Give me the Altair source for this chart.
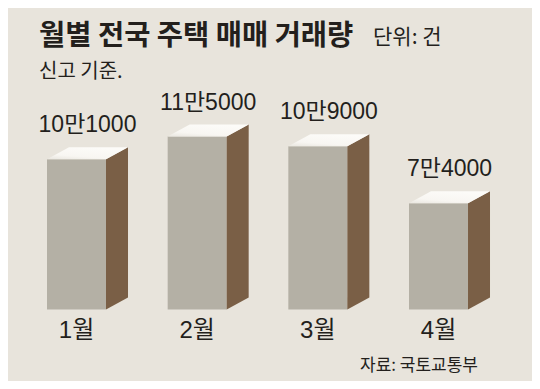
import altair as alt
import pandas as pd

# ---- data ----
months = ["1월", "2월", "3월", "4월"]
volumes = [101000, 115000, 109000, 74000]
value_labels = ["10만1000", "11만5000", "10만9000", "7만4000"]

title_text = "월별 전국 주택 매매 거래량"
unit_text = "단위: 건"
note_text = "신고 기준."
source_text = "자료: 국토교통부"

# ---- styling / geometry ----
W, H = 524, 373
BG = "#e8e4dc"
FRONT = "#b4b0a5"
SIDE = "#7a5f46"
INK = "#231f1c"

HW = 0.2445      # half width of the front face (category units)
DX = 0.1823      # depth offset in x (category units)
BASE = 8800      # baseline value of the bars
DV = 7366        # depth offset in value units
XDOM = [-0.5677, 3.7748]
YDOM = [-35092, 193883]

NUM_FONT = "Liberation Sans, Noto Sans CJK KR"
KR_FONT = "Noto Sans CJK KR"

rows = []
for i, (m, v, lab) in enumerate(zip(months, volumes, value_labels)):
    rows.append(dict(i=i, month=m, value=v, label=lab, base=BASE,
                     xl=i - HW, xr=i + HW, xc=i, xlab=i + DX / 2))
df = pd.DataFrame(rows)

side_rows, top_rows = [], []
for r in rows:
    side_rows += [
        dict(grp=r["month"], px=r["xr"], lo=BASE, hi=r["value"]),
        dict(grp=r["month"], px=r["xr"] + DX, lo=BASE + DV, hi=r["value"] + DV),
    ]
    v = r["value"]
    top_rows += [
        dict(grp=r["month"], px=r["xl"], lo=v, hi=v),
        dict(grp=r["month"], px=r["xl"] + DX, lo=v, hi=v + DV),
        dict(grp=r["month"], px=r["xr"], lo=v, hi=v + DV),
        dict(grp=r["month"], px=r["xr"] + DX, lo=v + DV, hi=v + DV),
    ]
side_df = pd.DataFrame(side_rows)
top_df = pd.DataFrame(top_rows)

xs = alt.Scale(domain=XDOM, nice=False, zero=False)
ys = alt.Scale(domain=YDOM, nice=False, zero=False)

top_fill = alt.Gradient(
    gradient="linear",
    stops=[alt.GradientStop(color="#e9e6df", offset=0),
           alt.GradientStop(color="#f8f6f2", offset=0.35),
           alt.GradientStop(color="#fcfbf8", offset=1)],
    x1=0, y1=1, x2=0.5, y2=0,
)

front = alt.Chart(df).mark_rect(color=FRONT).encode(
    x=alt.X("xl:Q", scale=xs, axis=None),
    x2="xr:Q",
    y=alt.Y("value:Q", scale=ys, axis=None),
    y2="base:Q",
)

side = alt.Chart(side_df).mark_area(color=SIDE).encode(
    x=alt.X("px:Q", scale=xs, axis=None),
    y=alt.Y("hi:Q", scale=ys, axis=None, stack=None),
    y2="lo:Q",
    detail="grp:N",
)

top = alt.Chart(top_df).mark_area(color=top_fill, orient="vertical").encode(
    x=alt.X("px:Q", scale=xs, axis=None),
    y=alt.Y("hi:Q", scale=ys, axis=None, stack=None),
    y2="lo:Q",
    detail="grp:N",
)

vlabels = alt.Chart(df).mark_text(
    font=NUM_FONT, fontSize=23, color=INK, baseline="middle", align="center", dy=-34
).encode(
    x=alt.X("xlab:Q", scale=xs, axis=None),
    y=alt.Y("value:Q", scale=ys, axis=None),
    text="label:N",
)

mlabels = alt.Chart(df).mark_text(
    font=NUM_FONT, fontSize=24, color=INK, baseline="middle", align="center", dy=22
).encode(
    x=alt.X("xc:Q", scale=xs, axis=None),
    y=alt.Y("base:Q", scale=ys, axis=None),
    text="month:N",
)

def note(text, x, y, size, weight="normal"):
    return alt.Chart(pd.DataFrame({"t": [text]})).mark_text(
        font=KR_FONT, fontSize=size, fontWeight=weight, color=INK,
        align="left", baseline="middle"
    ).encode(x=alt.value(x), y=alt.value(y), text="t:N")

chart = alt.layer(
    front, side, top, vlabels, mlabels,
    note(title_text, 31, 28, 28.5, "bold"),
    note(unit_text, 365, 30, 21),
    note(note_text, 31, 64, 20),
    note(source_text, 352, 358, 17),
).properties(
    width=W, height=H, padding=0, background=BG,
    autosize=alt.AutoSizeParams(type="none"),
).configure_view(stroke=None)

chart.save("out.html", embed_options={"renderer": "svg", "actions": False})
